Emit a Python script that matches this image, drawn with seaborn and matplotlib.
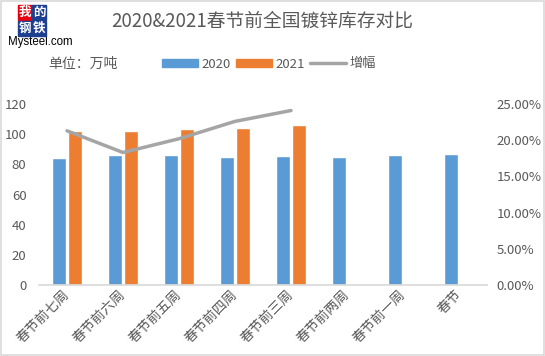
import numpy as np
import pandas as pd
import matplotlib
matplotlib.use("Agg")
import matplotlib.pyplot as plt
import seaborn as sns
from matplotlib.patches import Patch, Rectangle
from matplotlib.lines import Line2D

# data
weeks = ["春节前七周", "春节前六周", "春节前五周", "春节前四周",
         "春节前三周", "春节前两周", "春节前一周", "春节"]
stock_2020 = [84.2, 86.2, 86.0, 84.9, 85.5, 84.9, 86.2, 86.9]
stock_2021 = [102.1, 102.0, 103.4, 104.1, 106.1, np.nan, np.nan, np.nan]
growth = [0.213, 0.183, 0.202, 0.226, 0.241, np.nan, np.nan, np.nan]

df = pd.DataFrame({
    "week": weeks * 2,
    "year": ["2020"] * len(weeks) + ["2021"] * len(weeks),
    "stock": stock_2020 + stock_2021,
})

sns.set_theme(style="white")
plt.rcParams["font.family"] = ["Noto Sans CJK SC", "DejaVu Sans"]

txt = "#595959"
blue = "#5B9BD5"
orange = "#ED7D31"
grey = "#A5A5A5"

fig = plt.figure(figsize=(5.45, 3.56), dpi=100)
ax = fig.add_axes([39 / 545, 1 - 285 / 356, 448 / 545, 181 / 356])

sns.barplot(data=df, x="week", y="stock", hue="year", order=weeks,
            palette=[blue, orange], width=0.58, gap=0.1,
            saturation=1, legend=False, ax=ax)
ax.set_xlim(-0.5, len(weeks) - 0.5)
ax.set_ylim(0, 120)
ax.set_yticks(range(0, 121, 20))
ax.set_xlabel("")
ax.set_ylabel("")
for s in ["top", "right", "left"]:
    ax.spines[s].set_visible(False)
ax.spines["bottom"].set_color("#D9D9D9")
ax.tick_params(axis="y", length=0, pad=9, labelsize=9.5, labelcolor=txt)
ax.tick_params(axis="x", length=0, pad=5, labelsize=9.8, labelcolor=txt)
plt.setp(ax.get_xticklabels(), rotation=45, ha="right", va="center",
         rotation_mode="anchor")

ax2 = ax.twinx()
sns.lineplot(x=np.arange(len(weeks)), y=growth, color=grey, linewidth=2.5,
             ax=ax2)
ax2.set_ylim(0, 0.25)
ax2.set_yticks(np.arange(0, 0.251, 0.05))
ax2.set_yticklabels([f"{v * 100:.2f}%" for v in np.arange(0, 0.251, 0.05)])
for s in ["top", "right", "left", "bottom"]:
    ax2.spines[s].set_visible(False)
ax2.tick_params(axis="y", length=0, pad=7, labelsize=9.5, labelcolor=txt)
ax2.grid(False)
ax.grid(False)

# title and unit
fig.text(262 / 545, 1 - 21 / 356, "2020&2021春节前全国镀锌库存对比",
         ha="center", va="center", fontsize=13.5, color=txt)
fig.text(48 / 545, 1 - 64 / 356, "单位：万吨", ha="left", va="center",
         fontsize=10, color=txt)

# legend
handles = [Patch(color=blue), Patch(color=orange),
           Line2D([], [], color=grey, linewidth=2.5)]
fig.legend(handles, ["2020", "2021", "增幅"], ncol=3, frameon=False,
           loc="center left", bbox_to_anchor=(150 / 545, 1 - 64 / 356),
           fontsize=9.5, labelcolor=txt, handlelength=2.7, handleheight=0.6,
           handletextpad=0.3, columnspacing=0.4)

# logo
boxes = [(18, 5, "#E60012", "我"), (32, 5, "#1D3F8F", "的"),
         (18, 21, "#1D3F8F", "钢"), (32, 21, "#1D3F8F", "铁")]
for bx, by, c, ch in boxes:
    fig.patches.append(Rectangle((bx / 545, 1 - (by + 15) / 356), 14 / 545,
                                 15 / 356, transform=fig.transFigure,
                                 color=c, zorder=5))
    fig.text((bx + 7) / 545, 1 - (by + 7.5) / 356, ch, ha="center",
             va="center", fontsize=9, color="white", fontweight="bold",
             zorder=6)
fig.text(8 / 545, 1 - 42 / 356, "Mysteel.com", ha="left", va="center",
         fontsize=8.3, color="black", family="Liberation Sans")

# outer border
fig.patches.append(Rectangle((0.001, 0.002), 0.997, 0.995,
                             transform=fig.transFigure, fill=False,
                             edgecolor="#D9D9D9", linewidth=1.2))

fig.savefig("out.png", dpi=100, facecolor="white")
